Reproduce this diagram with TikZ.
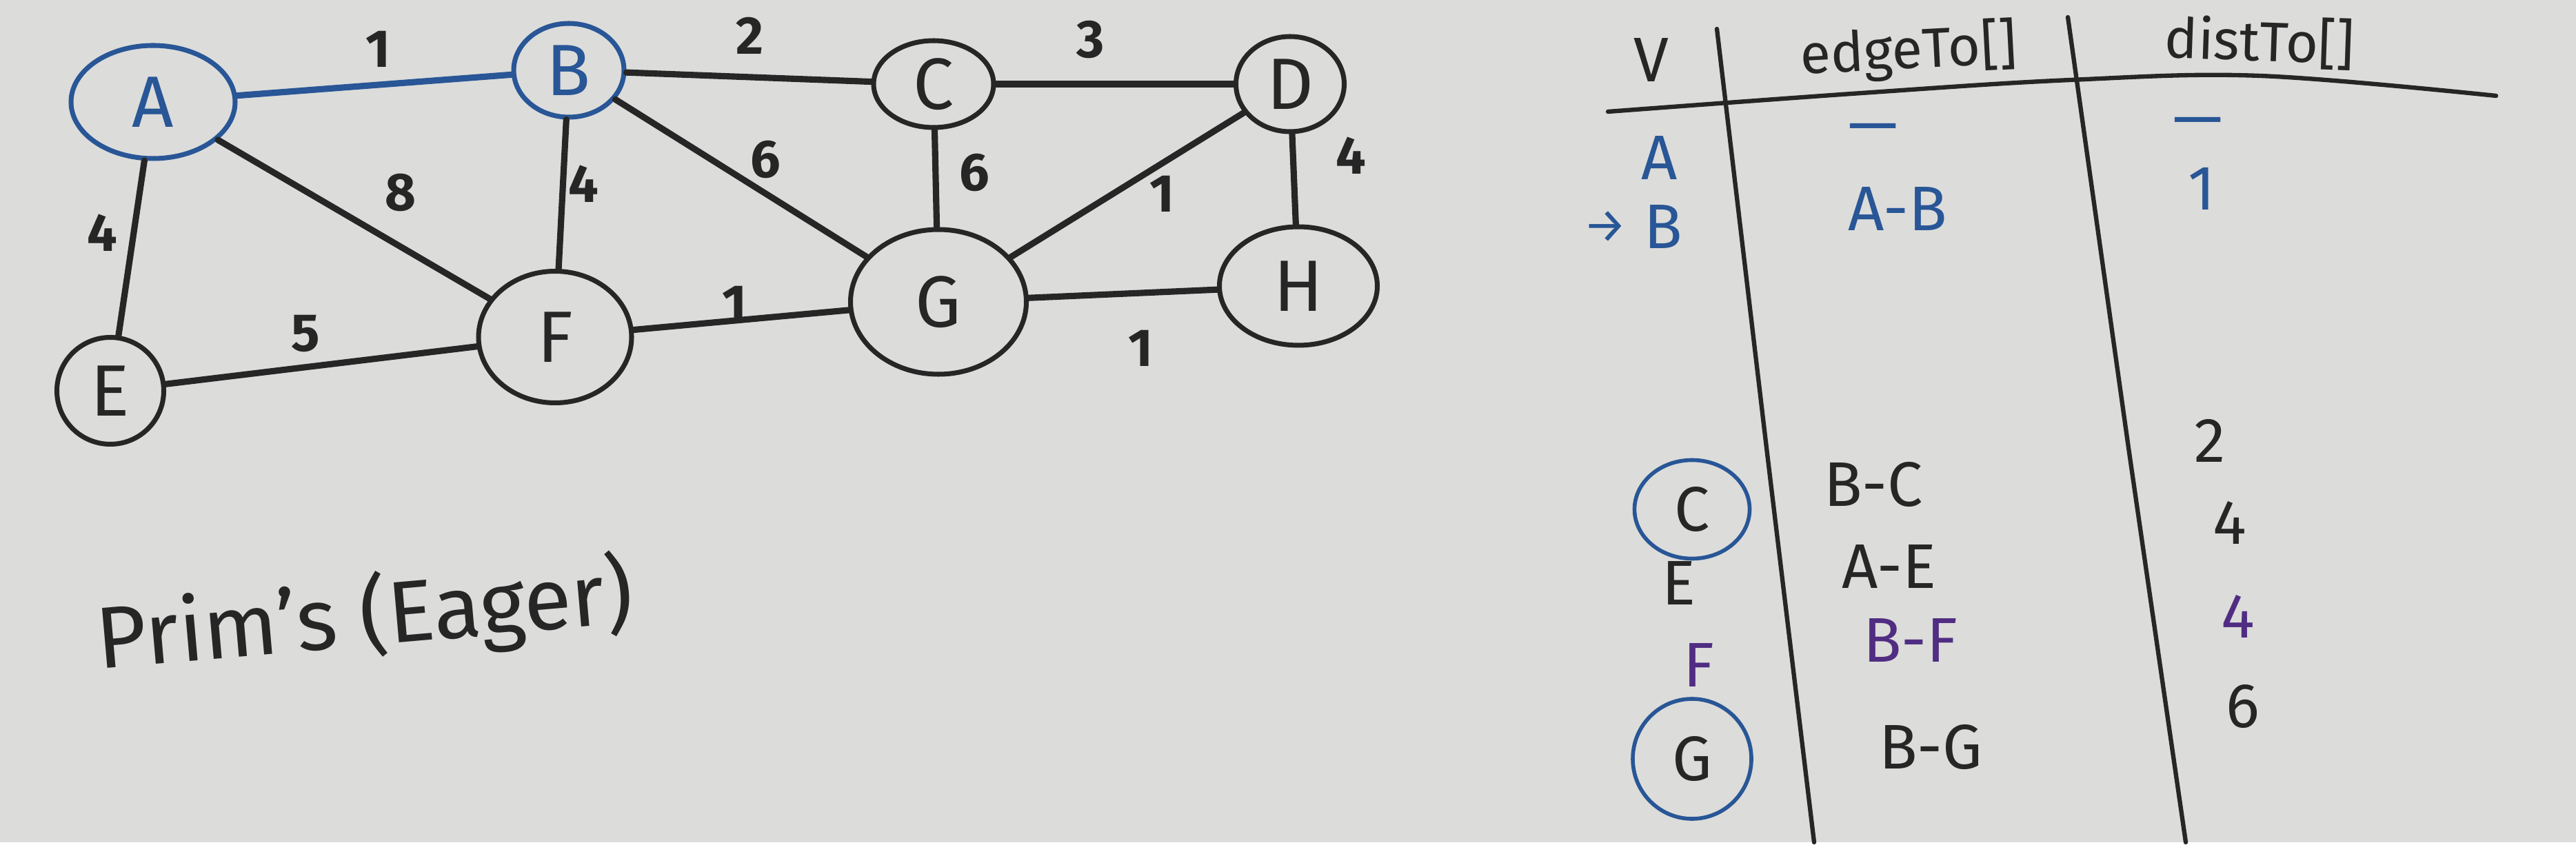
\documentclass[tikz,border=0pt]{standalone}
\usepackage{fontspec}
\setmainfont{Fira Sans}
\usetikzlibrary{shapes.geometric,positioning}
\definecolor{board}{RGB}{220,220,218}
\definecolor{ink}{RGB}{38,38,38}
\definecolor{mblue}{RGB}{40,86,150}
\definecolor{mpurple}{RGB}{80,45,130}
\tikzset{
  vertex/.style={ellipse, draw, line width=2pt, inner sep=0pt,
                 font=\fontsize{30}{32}\selectfont},
  wedge/.style={line width=2.6pt, line cap=round},
  weight/.style={font=\fontsize{22}{24}\selectfont\bfseries, text=ink},
  cell/.style={font=\fontsize{26}{30}\selectfont, text=ink},
  head/.style={font=\fontsize{23}{26}\selectfont, text=ink, inner sep=1pt},
  rule/.style={draw=ink, line width=1.8pt, line cap=round}
}
\begin{document}
\begin{tikzpicture}
   \fill[board] (0,0) rectangle (37.36,12.22);
   \foreach \n/\x/\y/\w/\h/\c in
     { A/2.22/10.74/2.38/1.64/mblue,
       B/8.25/11.20/1.60/1.36/mblue,
       C/13.54/11.00/1.74/1.26/ink,
       D/18.71/11.00/1.57/1.38/ink,
       E/1.60/6.55/1.55/1.55/ink,
       F/8.05/7.33/2.22/1.91/ink,
       G/13.61/7.84/2.55/2.10/ink,
       H/18.83/8.07/2.29/1.72/ink}
     \node[vertex, draw=\c, text=\c, minimum width=\w cm, minimum height=\h cm] (\n) at (\x,\y) {\n};
   \foreach \a/\b/\l/\x/\y/\c in
     { A/B/1/5.48/11.51/mblue,
       B/C/2/10.87/11.70/ink,
       C/D/3/15.82/11.65/ink,
       A/E/4/1.48/8.84/ink,
       A/F/8/5.81/9.43/ink,
       B/F/4/8.46/9.55/ink,
       B/G/6/11.10/9.91/ink,
       C/G/6/14.13/9.72/ink,
       D/G/1/16.85/9.41/ink,
       D/H/4/19.59/9.96/ink,
       E/F/5/4.43/7.38/ink,
       F/G/1/10.65/7.81/ink,
       G/H/1/16.54/7.17/ink}
     {
     \draw[wedge, draw=\c] (\a) -- (\b);
     \node[weight] (w\a\b) at (\x,\y) {\l};
     }
   \node[font=\fontsize{36}{40}\selectfont, text=ink, rotate=5] (title) at (5.29,3.25) {Prim's (Eager)};
   % table
   \node[head, font=\fontsize{26}{30}\selectfont] (hV) at (23.95,11.35) {V};
   \node[head, rotate=3] (hEdge) at (27.68,11.47) {edgeTo[]};
   \node[head, rotate=-2] (hDist) at (32.77,11.62) {distTo[]};
   \draw[rule] plot[smooth, tension=0.6] coordinates {(23.32,10.60) (27.0,10.87) (30.03,11.06) (32.78,11.12) (36.20,10.83)};
   \draw[rule] (24.90,11.80) -- (25.62,5.72) -- (26.31,0);
   \draw[rule] (29.99,11.97) -- (30.87,5.72) -- (31.70,0);
   \foreach \r/\v/\e/\d/\vx/\vy/\ex/\ey/\dx/\dy/\c in
     { 1/A/{---}/{---}/24.07/9.93/27.17/10.27/31.88/10.36/mblue,
       2/B/A-B/1/24.12/8.93/27.52/9.19/31.93/9.48/mblue,
       3/C/B-C/2/24.54/4.83/27.17/5.19/32.05/5.83/ink,
       4/E/A-E/4/24.35/3.76/27.40/4.00/32.34/4.64/ink,
       5/F/B-F/4/24.64/2.57/27.71/2.93/32.46/3.28/mpurple,
       6/G/B-G/6/24.54/1.21/28.00/1.38/32.53/1.97/ink}
     {
     \node[cell, text=\c] (v\r) at (\vx,\vy) {\v};
     \node[cell, text=\c] (e\r) at (\ex,\ey) {\e};
     \node[cell, text=\c] (d\r) at (\dx,\dy) {\d};
     }
   \node[cell, text=mblue, left=0pt of v2, font=\fontsize{20}{24}\selectfont] (cur) {→};
   \node[ellipse, draw=mblue, line width=1.6pt, minimum width=1.67cm, minimum height=1.43cm] (ringC) at (v3) {};
   \node[ellipse, draw=mblue, line width=1.6pt, minimum width=1.72cm, minimum height=1.74cm] (ringG) at (v6) {};
\end{tikzpicture}
\end{document}
